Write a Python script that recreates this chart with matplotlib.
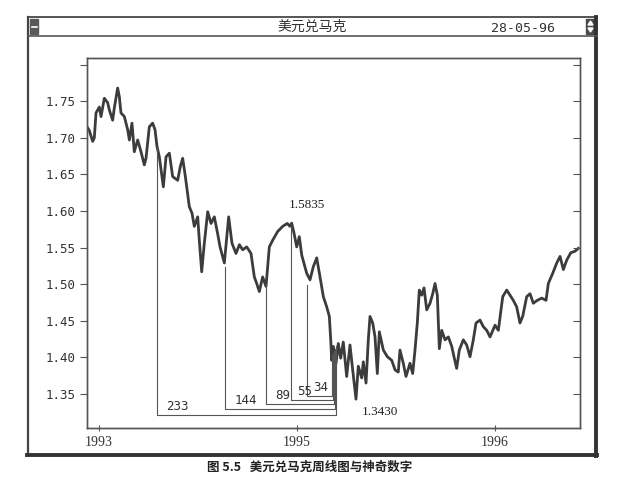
import matplotlib
matplotlib.use('Agg')
import matplotlib.pyplot as plt
from matplotlib.patches import Rectangle, Polygon

plt.rcParams['font.family'] = ['DejaVu Sans']

# trading-day index and USD/DEM rate
days = [0, 3, 7.4, 9.5, 11.7, 16, 18.2, 22.5, 26.8, 29, 33.3, 35.5, 39.8, 42, 44.1,
        48.5, 52.8, 55, 58.4, 61.4, 65.8, 70.1, 74.4, 76.6, 80.9, 85.2, 88.3, 90.9,
        93.9, 99.1, 102.6, 106.9, 111.2, 117.7, 121.2, 124.2, 127.7, 132.8, 136.3,
        139.3, 143.7, 145.8, 148.9, 152.3, 156.7, 161, 165.3, 169.6, 172.7, 178.3,
        183.9, 188.2, 193.4, 197.8, 202.1, 207.3, 212.9, 217.2, 220.3, 223.7, 228,
        232.4, 236.7, 241, 247.5, 254, 260, 263.5, 265.7, 268.7, 272.2, 275.6, 278.7,
        285.2, 289.5, 293.8, 298.2, 302.5, 306.8, 311.2, 314.6, 316.4, 317.7, 319.8,
        323.3, 326.2, 329.3, 332.7, 337.1, 341.4, 344.9, 349.2, 352.2, 356.6, 358.7,
        362.2, 365.2, 367.4, 370.9, 373.9, 376.9, 379.5, 384.7, 389.9, 395.6, 399.9,
        404.1, 406.3, 410.6, 414.1, 419.3, 422.8, 425.8, 428.8, 431.4, 434.5, 437.5,
        441, 445.3, 448.8, 451.8, 454.8, 457.4, 460.5, 464.8, 469.1, 473.5, 476.4,
        479.9, 483.3, 488.5, 492.9, 497.2, 501.5, 505, 510.2, 514.5, 518.9, 523.2,
        529.7, 534, 539.7, 544.9, 549.1, 553.4, 557.8, 562.1, 565.6, 570.8, 575.1,
        579.4, 584.6, 590.3, 595.9, 598.9, 604.6, 609.8, 614.1, 618.4, 622.8, 628,
        633.5, 637.8]
rate = [1.715, 1.710, 1.695, 1.700, 1.734, 1.742, 1.729, 1.754, 1.748, 1.738, 1.724,
        1.741, 1.768, 1.756, 1.734, 1.729, 1.711, 1.697, 1.720, 1.681, 1.697, 1.681,
        1.663, 1.672, 1.715, 1.720, 1.711, 1.688, 1.674, 1.633, 1.674, 1.679, 1.647,
        1.642, 1.661, 1.672, 1.647, 1.606, 1.597, 1.579, 1.592, 1.560, 1.517, 1.556,
        1.599, 1.583, 1.592, 1.569, 1.551, 1.529, 1.592, 1.556, 1.542, 1.554, 1.547,
        1.551, 1.542, 1.510, 1.501, 1.490, 1.510, 1.497, 1.551, 1.560, 1.572, 1.579,
        1.583, 1.579, 1.5835, 1.570, 1.551, 1.565, 1.540, 1.515, 1.506, 1.524, 1.536,
        1.510, 1.483, 1.469, 1.456, 1.424, 1.396, 1.415, 1.392, 1.419, 1.399, 1.421,
        1.374, 1.417, 1.383, 1.343, 1.388, 1.372, 1.394, 1.365, 1.424, 1.456, 1.447,
        1.428, 1.378, 1.435, 1.410, 1.401, 1.396, 1.383, 1.380, 1.410, 1.392, 1.374,
        1.392, 1.378, 1.410, 1.447, 1.492, 1.485, 1.495, 1.465, 1.474, 1.487, 1.501,
        1.485, 1.412, 1.437, 1.424, 1.428, 1.415, 1.401, 1.385, 1.410, 1.424, 1.417,
        1.401, 1.424, 1.447, 1.451, 1.442, 1.437, 1.428, 1.444, 1.437, 1.483, 1.492,
        1.485, 1.478, 1.469, 1.447, 1.456, 1.483, 1.487, 1.474, 1.478, 1.481, 1.478,
        1.501, 1.515, 1.529, 1.538, 1.520, 1.533, 1.543, 1.545, 1.549]

# Fibonacci day counts back from the low
fib_labels = ['233', '144', '89', '55', '34']
fib_start = [90.9, 178.5, 232.4, 264.8, 285.6]
fib_top = [1.686, 1.524, 1.500, 1.580, 1.499]
fib_bottom = [1.321, 1.329, 1.336, 1.342, 1.347]
fib_end = [323.3, 322.0, 320.7, 319.4, 318.0]
fib_end_top = [1.415, 1.412, 1.409, 1.406, 1.403]
fib_text_x = [117, 206, 254, 282, 304]

yticks = [1.35, 1.40, 1.45, 1.50, 1.55, 1.60, 1.65, 1.70, 1.75, 1.80]
xtick_pos = [15.6, 272.6, 529.7]
xtick_lab = ['1993', '1995', '1996']

W, H = 622, 492
fig = plt.figure(figsize=(W / 100, H / 100), dpi=100)

# window frame drawn in pixel coords
bg = fig.add_axes([0, 0, 1, 1])
bg.set_xlim(0, W)
bg.set_ylim(H, 0)
bg.axis('off')
fc = '#3a3a3a'
bg.plot([28, 597], [17, 17], color='#555', lw=1.4)
bg.plot([28, 28], [17, 455], color='#444', lw=1.6)
bg.plot([596, 596], [17, 456], color='#333', lw=2.8)
bg.plot([27, 597], [455, 455], color='#333', lw=2.8)
bg.plot([28, 597], [36, 36], color='#555', lw=1.2)
bg.add_patch(Rectangle((30, 19), 8, 15, color='#5a5a5a'))
bg.plot([31.5, 36.5], [26.5, 26.5], color='white', lw=1.2)
bg.add_patch(Rectangle((586, 19), 9, 15, color='#4a4a4a'))
bg.add_patch(Polygon([[588, 25], [593, 25], [590.5, 21]], color='white'))
bg.add_patch(Polygon([[588, 28], [593, 28], [590.5, 32]], color='white'))
bg.text(312, 27, '美元兑马克', ha='center', va='center', fontsize=10,
        family=['Noto Sans CJK SC', 'DejaVu Sans'], fontweight='light', color='#333')
bg.text(523, 28, '28-05-96', ha='center', va='center', fontsize=9.5,
        family='DejaVu Sans Mono', color='#333')
bg.text(310, 467, '图 5.5   美元兑马克周线图与神奇数字', ha='center', va='center',
        fontsize=9, family=['Noto Sans CJK SC', 'DejaVu Sans'], fontweight='bold',
        color='#222')

ax = fig.add_axes([87 / W, 1 - 428 / H, 493 / W, 370 / H])
ax.plot(days, rate, color='#3c3c3c', lw=2.0)

lc = '#555555'
for i in range(len(fib_labels)):
    ax.plot([fib_start[i], fib_start[i], fib_end[i], fib_end[i]],
            [fib_top[i], fib_bottom[i], fib_bottom[i], fib_end_top[i]],
            color=lc, lw=0.8)
    ax.text(fib_text_x[i], fib_bottom[i] + 0.003, fib_labels[i], ha='center',
            va='bottom', fontsize=9, family='DejaVu Sans Mono', color='#333')

ax.text(285.6, 1.600, '1.5835', ha='center', va='bottom', fontsize=9.5,
        family='Liberation Serif', color='#222')
ax.text(380, 1.325, '1.3430', ha='center', va='center', fontsize=9.5,
        family='Liberation Serif', color='#222')

ax.set_xlim(0, 640)
ax.set_ylim(1.3036, 1.809)
ax.set_yticks(yticks)
ax.set_yticklabels(['%.2f' % v if v < 1.79 else '' for v in yticks],
                   family='DejaVu Sans Mono', fontsize=9, color='#333')
ax.set_xticks(xtick_pos)
ax.set_xticklabels(xtick_lab, family='Liberation Serif', fontsize=10, color='#333')
ax.tick_params(axis='y', which='both', direction='out', length=5, color='#555')
ax.tick_params(axis='x', direction='inout', length=4, color='#555')

# inward ticks on the right side
ax2 = ax.twinx()
ax2.set_ylim(ax.get_ylim())
ax2.set_yticks(yticks)
ax2.set_yticklabels([])
ax2.tick_params(axis='y', direction='in', length=5, color='#555')

for a in (ax, ax2):
    for s in a.spines.values():
        s.set_color('#555')
        s.set_linewidth(1.0)

fig.savefig('out.png', dpi=100)
